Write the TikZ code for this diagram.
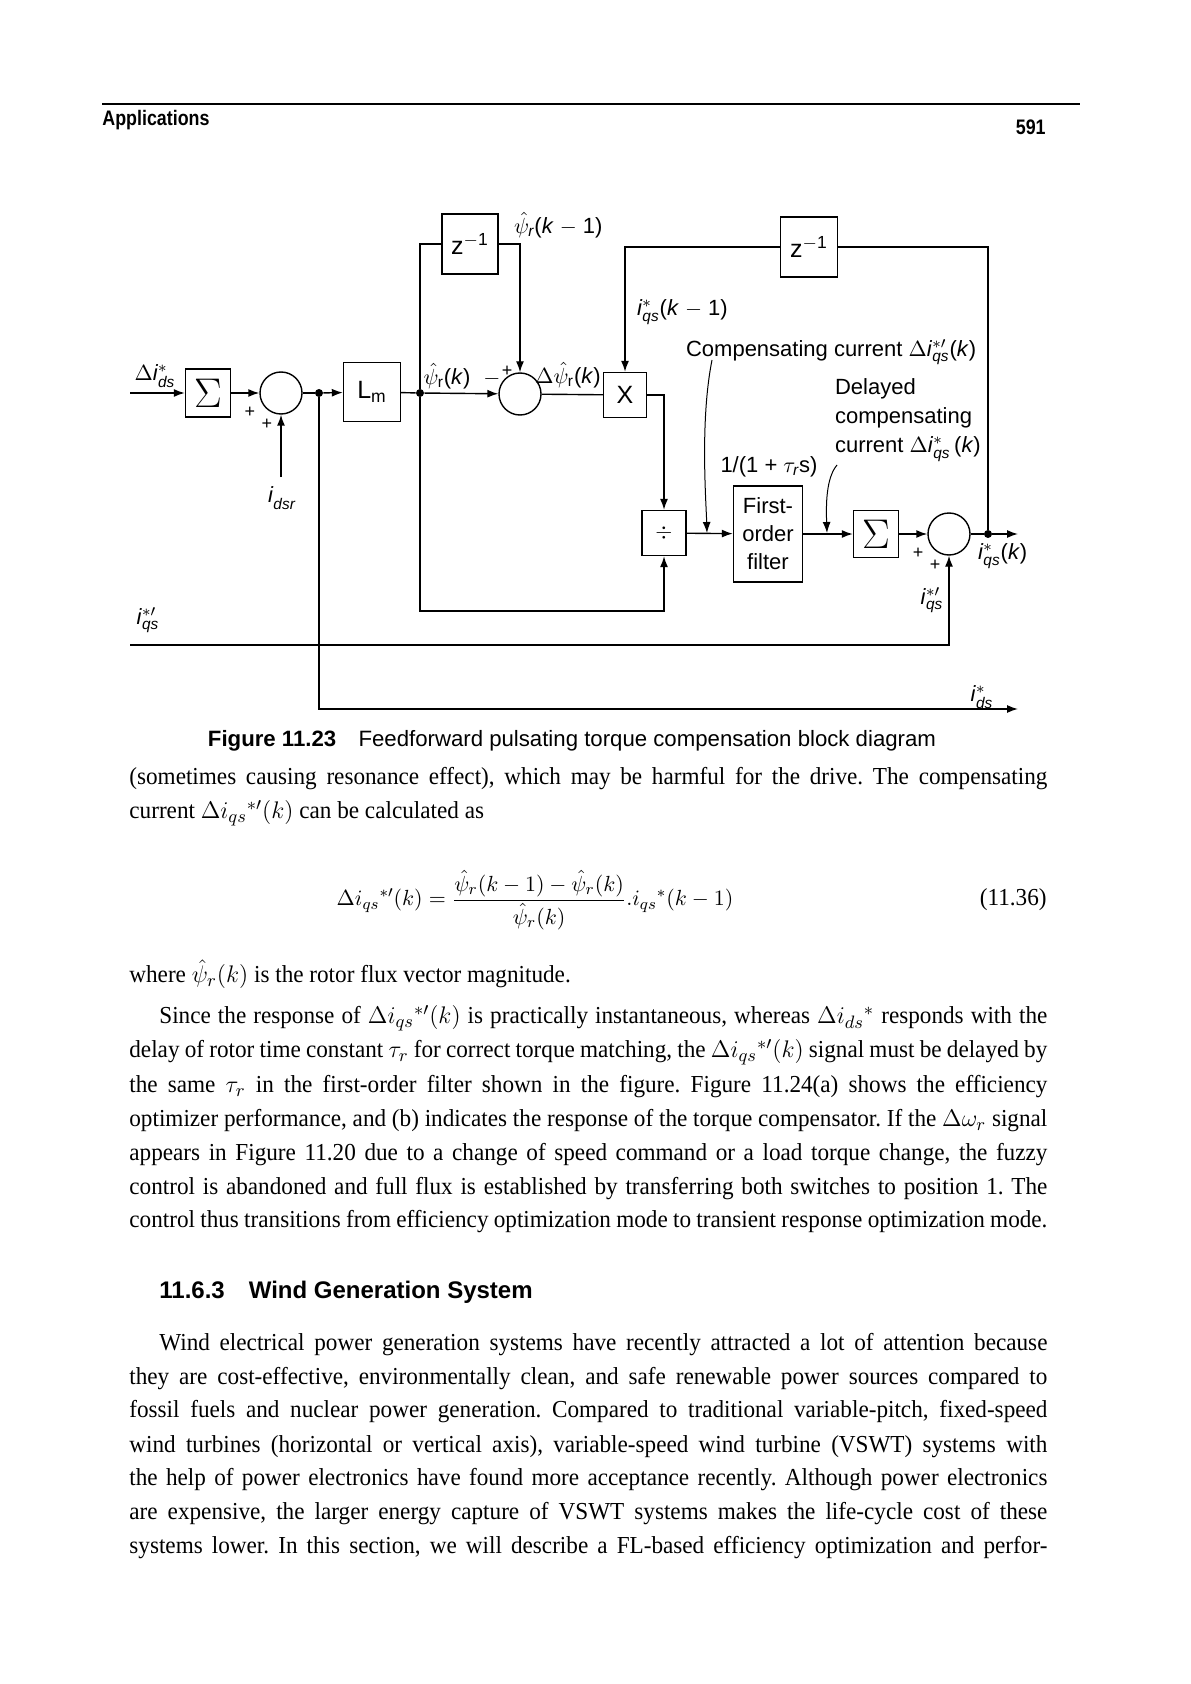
\documentclass[tikz,border=0pt]{standalone}
\usepackage{amsmath}
\usepackage{fontspec}
\setmainfont{Liberation Serif}[FakeStretch=0.95]
\setsansfont{Liberation Sans}
\newfontfamily\headfont{Liberation Sans}[FakeStretch=0.85]
\usetikzlibrary{arrows.meta}

\newcommand{\cur}[2]{\textit{i}$^{#1}_{\text{\itshape #2}}$}
\newcommand{\fullline}[1]{\makebox[459pt][s]{#1}}
\newcommand{\indline}[1]{\makebox[444pt][s]{#1}}
\newcommand{\zinv}{z\textsuperscript{$-$1}}
\frenchspacing

\begin{document}
\begin{tikzpicture}[x=0.5pt,y=-0.5pt,
    font=\sffamily\fontsize{11}{13}\selectfont,
    blk/.style={draw,line width=0.7pt,inner sep=0pt},
    sumc/.style={draw,circle,line width=0.7pt,minimum size=21pt,inner sep=0pt},
    jdot/.style={circle,fill,inner sep=0pt,minimum size=4pt},
    sigma/.style={font=\fontsize{20}{20}\selectfont},
    txt/.style={anchor=west,inner sep=0pt,font=\rmfamily\fontsize{12.2}{14}\selectfont}]
\useasboundingbox (0,0) rectangle (1190,1684);

% running head
\draw[line width=0.8pt] (102,104) -- (1080,104);
\node[anchor=west,inner sep=0pt,font=\headfont\bfseries\fontsize{10.5}{12}\selectfont] (head) at (102,120) {Applications};
\node[anchor=east,inner sep=0pt,font=\headfont\bfseries\fontsize{10.5}{12}\selectfont] (pagenum) at (1046,127) {591};

% blocks
\begin{scope}
    \node[blk,sigma,minimum width=22.5pt,minimum height=24pt] (sigA) at (208,393) {$\Sigma$};
    \node[sumc] (sumA) at (281,393) {};
    \node[jdot] (dotA) at (319,393) {};
    \node[blk,minimum width=28.5pt,minimum height=29.5pt,font=\sffamily\fontsize{12.5}{14}\selectfont] (lm) at (372,392) {L\textsubscript{m}};
    \node[jdot] (dotB) at (420,393) {};
    \node[blk,minimum width=28pt,minimum height=30pt,font=\sffamily\fontsize{12.5}{14}\selectfont] (zA) at (470,244) {\zinv};
    \node[sumc] (sumB) at (520,394) {};
    \node[blk,minimum width=21.5pt,minimum height=22.5pt,font=\sffamily\fontsize{12.5}{14}\selectfont] (mul) at (625,395) {X};
    \node[blk,minimum width=28.5pt,minimum height=30pt,font=\sffamily\fontsize{12.5}{14}\selectfont] (zB) at (809,247) {\zinv};
    \node[blk,minimum width=22pt,minimum height=22.5pt] (divb) at (664,533) {$\div$};
    \node[blk,minimum width=34.5pt,minimum height=48pt,align=center,
          font=\sffamily\fontsize{11}{14}\selectfont] (filt) at (768,534) {First-\\order\\filter};
    \node[blk,sigma,minimum width=22.5pt,minimum height=23.5pt] (sigB) at (876,534) {$\Sigma$};
    \node[sumc] (sumC) at (949,534) {};
    \node[jdot] (dotC) at (988,534) {};
\end{scope}

\coordinate (inA) at (130,393);
\coordinate (idsrA) at (281,477);
\coordinate (iqsA) at (130,645);
\coordinate (psiL) at (420,611);
\coordinate (idsE) at (1018,709);
\coordinate (outE) at (1018,534);
\coordinate (cmpA) at (712,360);
\coordinate (cmpB) at (707,533);
\coordinate (dlyA) at (837,465);
\coordinate (dlyB) at (827,533);

% connectors
\begin{scope}[>={Latex[length=5.5pt,width=4pt]},
              wire/.style={line width=0.7pt},
              sig/.style={->,line width=0.7pt},
              lead/.style={->,line width=0.5pt}]
    \draw [sig] (inA) -- (sigA);
    \draw [sig] (sigA) -- (sumA);
    \draw [wire] (sumA) -- (dotA);
    \draw [sig] (dotA) -- (lm);
    \draw [wire] (lm) -- (dotB);
    \draw [sig] (dotB) -- (sumB);
    \draw [wire] (sumB) -- (mul);
    \draw [wire] (dotB) |- (zA);
    \draw [sig] (zA.east) -| (sumB.north);
    \draw [sig] (zB.west) -| (mul.north);
    \draw [wire] (dotC) |- (zB.east);
    \draw [sig] (mul.east) -| (divb.north);
    \draw [sig] (dotB) -- (psiL) -| (divb.south);
    \draw [sig] (divb) -- (filt);
    \draw [sig] (filt) -- (sigB);
    \draw [sig] (sigB) -- (sumC);
    \draw [wire] (sumC) -- (dotC);
    \draw [sig] (dotC) -- (outE);
    \draw [sig] (idsrA) -- (sumA);
    \draw [sig] (iqsA) -| (sumC.south);
    \draw [sig] (dotA) |- (idsE);
    \draw [lead] (cmpA) .. controls (700,420) and (706,500) .. (cmpB);
    \draw [lead] (dlyA) .. controls (826,478) and (826,505) .. (dlyB);
\end{scope}

% labels
\node (lDids) at (155,376) {$\Delta$\cur{\ast}{ds}};
\node[font=\sffamily\small] (pA1) at (250,412) {+};
\node[font=\sffamily\small] (pA2) at (267,424) {+};
\node (lPsiK) at (447,376) {$\hat{\psi}_{\text{r}}$(\textit{k})};
\node (mB) at (492,379) {$-$};
\node[font=\sffamily\small] (pB) at (507,371) {+};
\node[anchor=west] (lPsiK1) at (507,225) {$\hat{\psi}_{\text{\itshape r}}$(\textit{k} $-$ 1)};
\node (lDpsi) at (568,375) {$\Delta\hat{\psi}_{\text{r}}$(\textit{k})};
\node[anchor=west] (lIqs1) at (630,312) {\cur{\ast}{qs}(\textit{k} $-$ 1)};
\node[anchor=west] (lComp) at (679,352) {Compensating current $\Delta$\cur{\ast\prime}{qs}(\textit{k})};
\node[anchor=west,align=left,font=\sffamily\fontsize{11}{14.5}\selectfont] (lDel) at (828,420)
    {Delayed\\compensating\\current $\Delta$\cur{\ast}{qs}\,(\textit{k})};
\node (lTf) at (769,467) {1/(1 + $\tau_{\text{\itshape r}}$s)};
\node[font=\sffamily\small] (pC1) at (918,553) {+};
\node[font=\sffamily\small] (pC2) at (935,565) {+};
\node (lIqsp) at (932,600) {\cur{\ast\prime}{qs}};
\node[anchor=west] (lIqsk) at (971,556) {\cur{\ast}{qs}(\textit{k})};
\node (lIds) at (982,697) {\cur{\ast}{ds}};
\node (lIdsr) at (282,498) {\cur{}{dsr}};
\node (lIqsL) at (148,620) {\cur{\ast\prime}{qs}};

% caption
\node[font=\sffamily\fontsize{11.1}{13}\selectfont] (cap) at (572,741) {\textbf{Figure 11.23}\quad Feedforward pulsating torque compensation block diagram};

% body text
\node[txt] (t1) at (129,779) {\fullline{(sometimes causing resonance effect), which may be harmful for the drive. The compensating}};
\node[txt] (t2) at (129,813) {current $\Delta i_{qs}{}^{*\prime}(k)$ can be calculated as};
\node[txt,anchor=center,font=\rmfamily\fontsize{11}{13}\selectfont] (eq) at (535,900) {$\Delta i_{qs}{}^{*\prime}(k)=\dfrac{\hat{\psi}_r(k-1)-\hat{\psi}_r(k)}{\hat{\psi}_r(k)}.i_{qs}{}^{*}(k-1)$};
\node[txt,anchor=east] (eqn) at (1047,900) {(11.36)};
\node[txt] (t3) at (129,974) {where $\hat{\psi}_r(k)$ is the rotor flux vector magnitude.};
\node[txt] (t4) at (159,1018) {\indline{Since the response of $\Delta i_{qs}{}^{*\prime}(k)$ is practically instantaneous, whereas $\Delta i_{ds}{}^{*}$ responds with the}};
\node[txt] (t5) at (129,1052) {\fullline{delay of rotor time constant $\tau_r$ for correct torque matching, the $\Delta i_{qs}{}^{*\prime}(k)$ signal must be delayed by}};
\node[txt] (t6) at (129,1087) {\fullline{the same $\tau_r$ in the first-order filter shown in the figure. Figure 11.24(a) shows the efficiency}};
\node[txt] (t7) at (129,1121) {\fullline{optimizer performance, and (b) indicates the response of the torque compensator. If the $\Delta\omega_r$ signal}};
\node[txt] (t8) at (129,1155) {\fullline{appears in Figure 11.20 due to a change of speed command or a load torque change, the fuzzy}};
\node[txt] (t9) at (129,1189) {\fullline{control is abandoned and full flux is established by transferring both switches to position 1. The}};
\node[txt] (t10) at (129,1222) {\fullline{control thus transitions from efficiency optimization mode to transient response optimization mode.}};

\node[anchor=west,inner sep=0pt,font=\sffamily\bfseries\fontsize{12}{14}\selectfont] (sec) at (159,1292) {11.6.3\quad Wind Generation System};

\node[txt] (w1) at (159,1345) {\indline{Wind electrical power generation systems have recently attracted a lot of attention because}};
\node[txt] (w2) at (129,1379) {\fullline{they are cost-effective, environmentally clean, and safe renewable power sources compared to}};
\node[txt] (w3) at (129,1412) {\fullline{fossil fuels and nuclear power generation. Compared to traditional variable-pitch, fixed-speed}};
\node[txt] (w4) at (129,1447) {\fullline{wind turbines (horizontal or vertical axis), variable-speed wind turbine (VSWT) systems with}};
\node[txt] (w5) at (129,1480) {\fullline{the help of power electronics have found more acceptance recently. Although power electronics}};
\node[txt] (w6) at (129,1514) {\fullline{are expensive, the larger energy capture of VSWT systems makes the life-cycle cost of these}};
\node[txt] (w7) at (129,1548) {\fullline{systems lower. In this section, we will describe a FL-based efficiency optimization and perfor-}};
\end{tikzpicture}
\end{document}
